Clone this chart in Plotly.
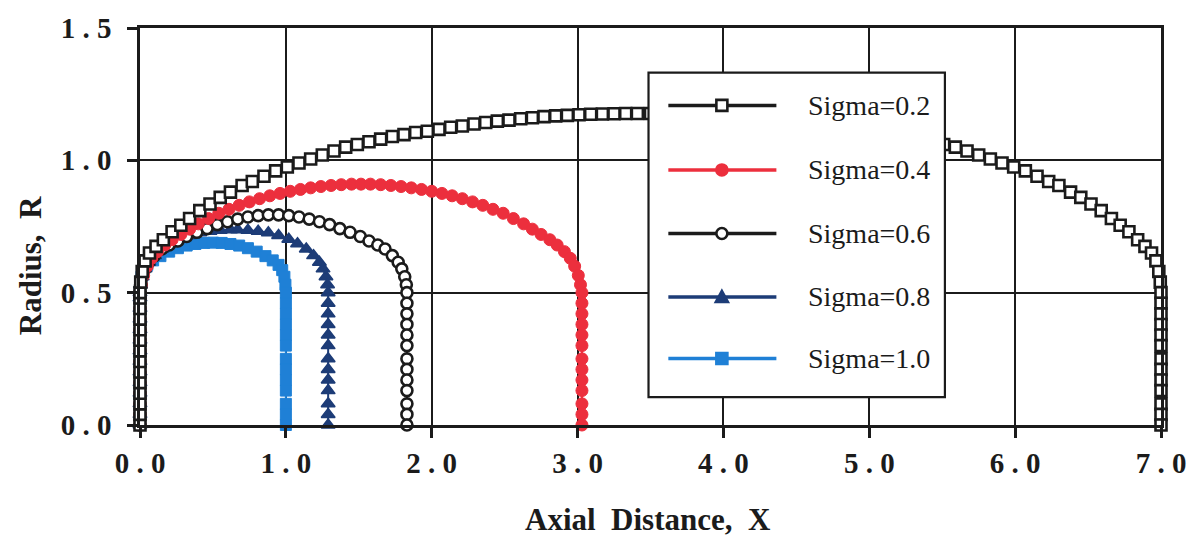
import plotly.graph_objects as go

# ---------------- data ----------------
NAMES = ["Sigma=0.2", "Sigma=0.4", "Sigma=0.6", "Sigma=0.8", "Sigma=1.0"]

# shared left wall x = 0
LEFT_WALL = [(0.0, 0.00), (0.0, 0.04), (0.0, 0.08), (0.0, 0.12), (0.0, 0.16), (0.0, 0.20),
             (0.0, 0.24), (0.0, 0.28), (0.0, 0.32), (0.0, 0.36), (0.0, 0.40), (0.0, 0.44),
             (0.0, 0.48)]

S02 = LEFT_WALL + [
    (0.0, 0.50), (0.005, 0.54), (0.015, 0.58), (0.035, 0.62), (0.065, 0.65), (0.11, 0.675),
    (0.16, 0.70), (0.22, 0.73), (0.28, 0.755), (0.34, 0.78), (0.41, 0.81), (0.48, 0.835),
    (0.55, 0.86), (0.62, 0.88), (0.70, 0.905), (0.77, 0.92), (0.85, 0.94), (0.93, 0.96),
    (1.01, 0.975), (1.09, 0.99), (1.17, 1.005), (1.25, 1.02), (1.33, 1.035), (1.41, 1.05),
    (1.49, 1.06), (1.57, 1.07), (1.65, 1.08), (1.73, 1.09), (1.81, 1.097), (1.89, 1.105),
    (1.97, 1.11), (2.05, 1.117), (2.13, 1.125), (2.21, 1.13), (2.29, 1.137), (2.37, 1.143),
    (2.45, 1.148), (2.53, 1.152), (2.61, 1.157), (2.69, 1.161), (2.77, 1.165), (2.85, 1.168),
    (2.93, 1.17), (3.01, 1.172), (3.09, 1.174), (3.17, 1.175), (3.25, 1.176), (3.33, 1.177),
    (3.41, 1.177), (3.50, 1.177),
    (3.59, 1.177), (3.67, 1.177), (3.75, 1.176), (3.83, 1.175), (3.91, 1.174), (3.99, 1.172),
    (4.07, 1.17), (4.15, 1.168), (4.23, 1.165), (4.31, 1.161), (4.39, 1.157), (4.47, 1.152),
    (4.55, 1.148), (4.63, 1.143), (4.71, 1.137), (4.79, 1.13), (4.87, 1.125), (4.95, 1.117),
    (5.03, 1.11), (5.11, 1.105), (5.19, 1.097), (5.27, 1.09), (5.35, 1.08), (5.43, 1.07),
    (5.51, 1.06), (5.59, 1.05), (5.67, 1.035), (5.75, 1.02), (5.83, 1.005), (5.91, 0.99),
    (5.99, 0.975), (6.07, 0.96), (6.15, 0.94), (6.23, 0.92), (6.30, 0.905), (6.38, 0.88),
    (6.45, 0.86), (6.52, 0.835), (6.59, 0.81), (6.66, 0.78), (6.72, 0.755), (6.78, 0.73),
    (6.84, 0.70), (6.89, 0.675), (6.935, 0.65), (6.965, 0.62), (6.985, 0.58), (6.995, 0.54),
    (7.0, 0.50),
    (7.0, 0.46), (7.0, 0.42), (7.0, 0.38), (7.0, 0.34), (7.0, 0.30), (7.0, 0.25),
    (7.0, 0.21), (7.0, 0.17), (7.0, 0.13), (7.0, 0.08), (7.0, 0.04), (7.0, 0.0)]

S04 = LEFT_WALL + [
    (0.0, 0.50), (0.01, 0.53), (0.025, 0.565), (0.05, 0.60), (0.08, 0.63), (0.12, 0.655),
    (0.17, 0.68), (0.22, 0.70), (0.28, 0.72), (0.34, 0.74), (0.40, 0.76), (0.47, 0.78),
    (0.54, 0.80), (0.61, 0.815), (0.68, 0.83), (0.75, 0.843), (0.82, 0.855), (0.89, 0.866),
    (0.96, 0.875), (1.03, 0.883), (1.10, 0.89), (1.17, 0.896), (1.24, 0.901), (1.31, 0.905),
    (1.38, 0.908), (1.45, 0.91), (1.515, 0.91),
    (1.58, 0.91), (1.65, 0.908), (1.72, 0.905), (1.79, 0.901), (1.86, 0.896), (1.93, 0.89),
    (2.00, 0.883), (2.07, 0.875), (2.14, 0.866), (2.21, 0.855), (2.28, 0.843), (2.35, 0.83),
    (2.42, 0.815), (2.49, 0.80), (2.56, 0.78), (2.63, 0.76), (2.69, 0.74), (2.75, 0.72),
    (2.81, 0.70), (2.86, 0.68), (2.91, 0.655), (2.95, 0.63), (2.98, 0.60), (3.005, 0.565),
    (3.02, 0.53), (3.03, 0.50),
    (3.03, 0.46), (3.03, 0.42), (3.03, 0.38), (3.03, 0.34), (3.03, 0.30), (3.03, 0.25),
    (3.03, 0.21), (3.03, 0.17), (3.03, 0.13), (3.03, 0.08), (3.03, 0.04), (3.03, 0.0)]

S06 = LEFT_WALL + [
    (0.0, 0.50), (0.004, 0.53), (0.015, 0.56), (0.035, 0.59), (0.06, 0.615), (0.10, 0.64),
    (0.15, 0.665), (0.20, 0.68), (0.26, 0.695), (0.32, 0.712), (0.39, 0.728), (0.46, 0.742),
    (0.53, 0.757), (0.60, 0.768), (0.67, 0.778), (0.74, 0.786), (0.81, 0.791), (0.88, 0.794),
    (0.95, 0.794), (1.02, 0.791), (1.09, 0.786), (1.16, 0.778), (1.23, 0.768), (1.30, 0.757),
    (1.37, 0.742), (1.44, 0.728), (1.51, 0.712), (1.57, 0.695), (1.63, 0.68), (1.68, 0.665),
    (1.73, 0.64), (1.77, 0.615), (1.795, 0.59), (1.815, 0.56), (1.826, 0.53), (1.83, 0.50),
    (1.83, 0.46), (1.83, 0.42), (1.83, 0.38), (1.83, 0.34), (1.83, 0.30), (1.83, 0.25),
    (1.83, 0.21), (1.83, 0.17), (1.83, 0.13), (1.83, 0.08), (1.83, 0.04), (1.83, 0.0)]

S08 = LEFT_WALL + [
    (0.0, 0.50), (0.004, 0.53), (0.015, 0.56), (0.035, 0.59), (0.06, 0.615), (0.10, 0.64),
    (0.15, 0.665), (0.21, 0.685), (0.27, 0.702), (0.34, 0.716), (0.41, 0.726), (0.48, 0.732),
    (0.55, 0.736), (0.62, 0.738), (0.67, 0.738), (0.74, 0.736), (0.81, 0.732), (0.88, 0.726),
    (0.95, 0.716), (1.02, 0.702), (1.08, 0.685), (1.14, 0.665), (1.19, 0.64), (1.23, 0.615),
    (1.255, 0.59), (1.275, 0.56), (1.286, 0.53), (1.29, 0.50),
    (1.29, 0.46), (1.29, 0.42), (1.29, 0.38), (1.29, 0.34), (1.29, 0.30), (1.29, 0.25),
    (1.29, 0.21), (1.29, 0.17), (1.29, 0.13), (1.29, 0.08), (1.29, 0.04), (1.29, 0.0)]

S10 = LEFT_WALL + [
    (0.0, 0.50), (0.003, 0.53), (0.01, 0.56), (0.025, 0.585), (0.05, 0.605), (0.09, 0.622),
    (0.14, 0.638), (0.20, 0.655), (0.26, 0.668), (0.32, 0.678), (0.38, 0.684), (0.44, 0.688),
    (0.50, 0.689), (0.56, 0.688), (0.62, 0.684), (0.68, 0.678), (0.74, 0.668), (0.80, 0.655),
    (0.86, 0.638), (0.91, 0.622), (0.95, 0.605), (0.975, 0.585), (0.99, 0.56), (0.997, 0.53),
    (1.0, 0.50),
    (1.0, 0.46), (1.0, 0.42), (1.0, 0.38), (1.0, 0.34), (1.0, 0.30), (1.0, 0.25),
    (1.0, 0.21), (1.0, 0.17), (1.0, 0.13), (1.0, 0.08), (1.0, 0.04), (1.0, 0.0)]

SERIES = [S02, S04, S06, S08, S10]

X_TICKS = [0, 1, 2, 3, 4, 5, 6, 7]
X_TICK_TEXT = ["0.0", "1.0", "2.0", "3.0", "4.0", "5.0", "6.0", "7.0"]
Y_TICKS = [0.0, 0.5, 1.0, 1.5]
Y_TICK_TEXT = ["0.0", "0.5", "1.0", "1.5"]

# ---------------- styles ----------------
BLACK = "#1b1b1b"
RED = "#ec2f3d"
NAVY = "#1d3c77"
LBLUE = "#1f80d6"
STYLES = [
    dict(color=BLACK, symbol="square", fill="white", size=11, lw=2.6),
    dict(color=RED, symbol="circle", fill=RED, size=12, lw=1),
    dict(color=BLACK, symbol="circle", fill="white", size=11, lw=2.6),
    dict(color=NAVY, symbol="triangle-up", fill=NAVY, size=12, lw=1.5),
    dict(color=LBLUE, symbol="square", fill=LBLUE, size=11, lw=1),
]

SERIF = "Liberation Serif, Times New Roman, serif"


def spaced(s):
    return "\u2005".join(s)


fig = go.Figure()
for i in reversed(range(len(SERIES))):
    pts = SERIES[i]
    st = STYLES[i]
    fig.add_trace(go.Scatter(
        x=[p[0] for p in pts], y=[p[1] for p in pts], name=NAMES[i],
        mode="lines+markers", cliponaxis=False, showlegend=False,
        line=dict(color=st["color"], width=2),
        marker=dict(symbol=st["symbol"], size=st["size"], color=st["fill"],
                    line=dict(color=st["color"], width=st["lw"])),
    ))

axis_common = dict(
    showgrid=True, gridcolor=BLACK, gridwidth=2.2,
    showline=True, linecolor=BLACK, linewidth=2.5, mirror=True,
    ticks="outside", ticklen=10, tickwidth=2.5, tickcolor=BLACK,
    zeroline=False,
    tickfont=dict(family=SERIF, size=29, color=BLACK, weight="bold"),
)
fig.update_xaxes(range=[0, 7], tickvals=X_TICKS, ticktext=[spaced(t) for t in X_TICK_TEXT],
                 ticklabelstandoff=0, **axis_common)
fig.update_yaxes(range=[0, 1.5], tickvals=Y_TICKS, ticktext=[spaced(t) for t in Y_TICK_TEXT],
                 ticklabelstandoff=10, **axis_common)

# ---------------- layout: plot area 140..1170 x 25..425 px ----------------
W, H = 1198, 544
L, R, T, B = 140, 28, 25, 119
PW, PH = W - L - R, H - T - B


def px(x):
    return (x - L) / PW


def py(y):
    return (H - B - y) / PH


annotations = [
    dict(text="Axial\u00a0\u00a0Distance,\u00a0\u00a0X", x=px(652), y=py(520), xref="paper", yref="paper",
         showarrow=False, xanchor="center", yanchor="middle",
         font=dict(family=SERIF, size=31, color=BLACK, weight="bold")),
    dict(text="Radius,\u00a0\u00a0R", x=px(29), y=py(264), xref="paper", yref="paper",
         showarrow=False, xanchor="center", yanchor="middle", textangle=-90,
         font=dict(family=SERIF, size=31, color=BLACK, weight="bold")),
]

# manual legend box
shapes = [dict(type="rect", xref="paper", yref="paper", x0=px(653), x1=px(952), y0=py(397), y1=py(70),
               fillcolor="white", line=dict(color=BLACK, width=2.2), layer="above")]
ENTRY_Y = [103, 168, 232, 296, 358]
for i, yy in enumerate(ENTRY_Y):
    st = STYLES[i]
    shapes.append(dict(type="line", xref="paper", yref="paper", x0=px(673), x1=px(782),
                       y0=py(yy), y1=py(yy), line=dict(color=st["color"], width=3.5), layer="above"))
    base = dict(xref="paper", yref="paper", xsizemode="pixel", ysizemode="pixel",
                xanchor=px(727), yanchor=py(yy), layer="above",
                fillcolor=st["fill"], line=dict(color=st["color"], width=2.6))
    if st["symbol"] == "square":
        shapes.append(dict(type="rect", x0=-5.5, x1=5.5, y0=-5.5, y1=5.5, **base))
    elif st["symbol"] == "circle":
        shapes.append(dict(type="circle", x0=-5.5, x1=5.5, y0=-5.5, y1=5.5, **base))
    else:
        shapes.append(dict(type="path", path="M -6 -5 L 6 -5 L 0 6 Z", **base))
    annotations.append(dict(text=NAMES[i], x=px(812), y=py(yy), xref="paper", yref="paper",
                            showarrow=False, xanchor="left", yanchor="middle",
                            font=dict(family=SERIF, size=28, color=BLACK)))

fig.update_layout(
    width=W, height=H,
    margin=dict(l=L, r=R, t=T, b=B, pad=0),
    paper_bgcolor="white", plot_bgcolor="white",
    showlegend=False,
    shapes=shapes, annotations=annotations,
)

fig.write_html("out.html")
